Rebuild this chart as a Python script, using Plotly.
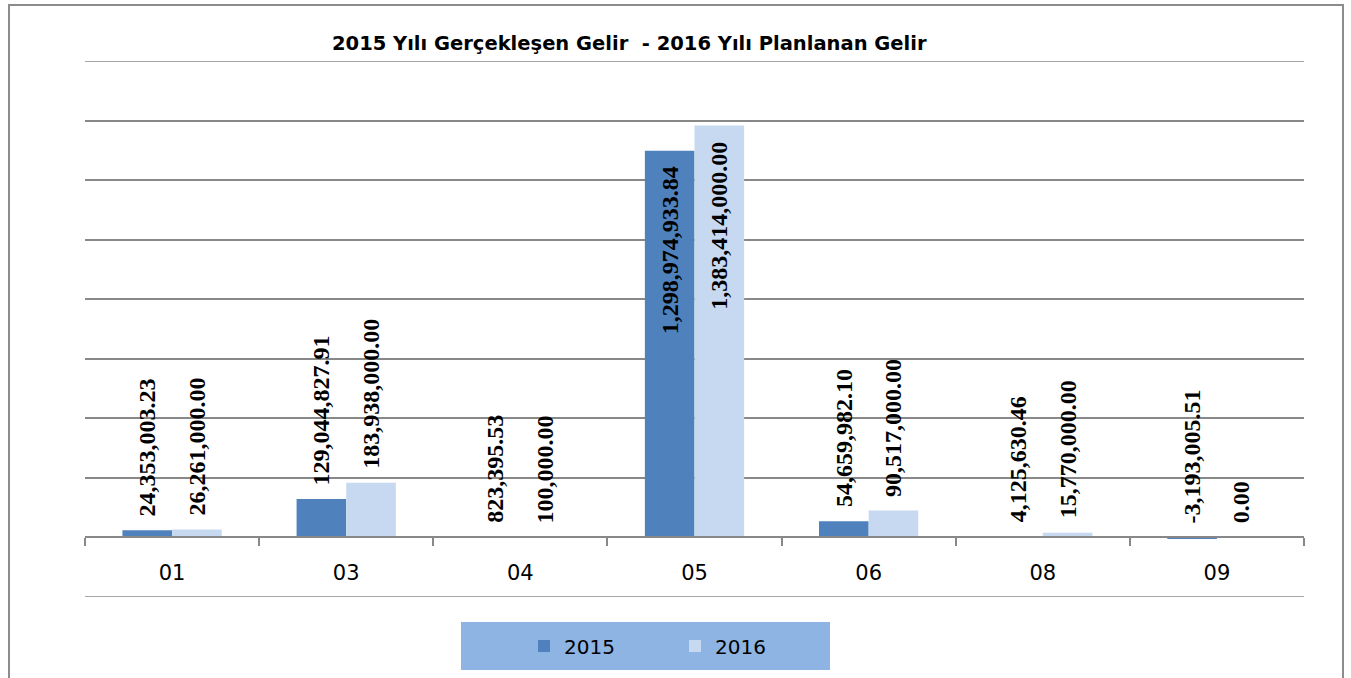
import plotly.graph_objects as go

categories = ["01", "03", "04", "05", "06", "08", "09"]
values_2015 = [24353003.23, 129044827.91, 823395.53, 1298974933.84, 54659982.10, 4125630.46, -3193005.51]
values_2016 = [26261000.00, 183938000.00, 100000.00, 1383414000.00, 90517000.00, 15770000.00, 0.00]
series_names = ["2015", "2016"]
title_text = "2015 Yılı Gerçekleşen Gelir \u00a0- 2016 Yılı Planlanan Gelir"

W, H = 1351, 678
ML, MR, MT, MB = 85, 47, 61, 81
PW, PH = W - ML - MR, H - MT - MB
Y_MIN, Y_MAX = -200e6, 1600e6
BARGAP = 0.43
GRID_COLOR = "#888888"

def px_x(p):
    return (p - ML) / PW

def px_y(p):
    return (H - MB - p) / PH

fig = go.Figure()
colors = ["#4f81bd", "#c6d9f1"]
for name, vals, col in zip(series_names, [values_2015, values_2016], colors):
    fig.add_trace(go.Bar(name=name, x=categories, y=vals, marker=dict(color=col, line=dict(width=0))))

# data labels
bar_w = (1 - BARGAP) / 2
label_font = dict(family="Liberation Serif", size=24, color="black")
for s, vals in enumerate([values_2015, values_2016]):
    off = (s - 0.5) * bar_w
    for i, v in enumerate(vals):
        inside = v > 1e9
        fig.add_annotation(
            x=i + off, y=v if inside else max(v, 0), xref="x", yref="y",
            text="<b>{:,.2f}</b>".format(v), textangle=-90, showarrow=False,
            font=label_font,
            yanchor="top" if inside else "bottom", xanchor="center",
            yshift=-14 if inside else 12,
        )

# edge gridlines (range limits)
for yv in (Y_MIN, Y_MAX):
    fig.add_shape(type="line", xref="paper", yref="y", x0=0, x1=1, y0=yv, y1=yv,
                  line=dict(color=GRID_COLOR, width=1.5), layer="below")

# title
fig.add_annotation(
    x=px_x(629), y=px_y(43), xref="paper", yref="paper", showarrow=False,
    text="<b>" + title_text + "</b>", font=dict(family="DejaVu Sans", size=19.5, color="black"),
    xanchor="center", yanchor="middle",
)

# outer border
fig.add_shape(type="rect", xref="paper", yref="paper",
              x0=px_x(9), x1=px_x(1343), y0=px_y(700), y1=px_y(5),
              line=dict(color="#8c8c8c", width=2), fillcolor="rgba(0,0,0,0)", layer="below")
# legend background
fig.add_shape(type="rect", xref="paper", yref="paper",
              x0=px_x(461), x1=px_x(830), y0=px_y(670), y1=px_y(622),
              line=dict(width=0), fillcolor="#8eb4e3", layer="below")

fig.update_layout(
    width=W, height=H,
    margin=dict(l=ML, r=MR, t=MT, b=MB),
    paper_bgcolor="white", plot_bgcolor="rgba(0,0,0,0)",
    barmode="group", bargap=BARGAP, bargroupgap=0,
    showlegend=True,
    legend=dict(orientation="h", x=px_x(524), y=px_y(646), xanchor="left", yanchor="middle",
                bgcolor="rgba(0,0,0,0)", font=dict(family="DejaVu Sans", size=20, color="black"),
                entrywidth=106, itemwidth=30),
    xaxis=dict(type="category", anchor="free", position=(0 - Y_MIN) / (Y_MAX - Y_MIN),
               showline=True, linecolor=GRID_COLOR, linewidth=1.5,
               ticks="outside", tickson="boundaries", ticklen=8, tickcolor=GRID_COLOR, tickwidth=1.5,
               tickfont=dict(family="DejaVu Sans", size=21, color="black"), ticklabelstandoff=17,
               showgrid=False, zeroline=False),
    yaxis=dict(range=[Y_MIN, Y_MAX], dtick=200e6, tick0=0, showticklabels=False,
               showgrid=True, gridcolor=GRID_COLOR, gridwidth=1.5, zeroline=False, showline=False),
)

fig.write_html("out.html", config={"displayModeBar": False},
               post_script="document.body.style.margin='0';")
